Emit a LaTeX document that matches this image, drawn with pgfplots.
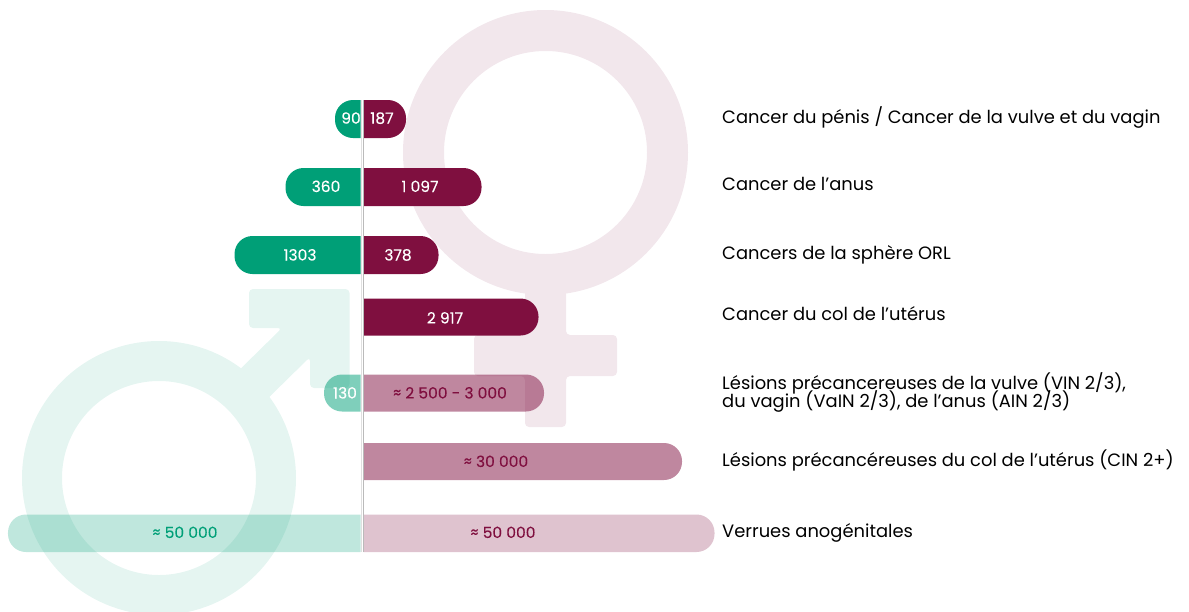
\documentclass[border=0pt]{standalone}
\usepackage{pgfplots}
\pgfplotsset{compat=1.18}
\usepackage{fontspec}
\setmainfont{Poppins}
\newfontfamily\valfont[FakeBold=0.25]{Poppins}
\definecolor{vert}{HTML}{009F77}
\definecolor{bord}{HTML}{7F0F3F}
\definecolor{palev}{HTML}{E5F5F1}
\definecolor{paleb}{HTML}{F2E7EC}
\pgfplotsset{base/.style={hide axis,x=1pt,y=1pt,y dir=reverse,ymin=0,ymax=612}}
% one bar: colour, length from the central axis, top and bottom of the bar, opacity
\newcommand{\barR}[5]{\addplot[forget plot,mark=none,draw=none,fill=#1,fill opacity=#5,rounded corners=18pt]
  coordinates {(-30,#3)(#2,#3)(#2,#4)(-30,#4)} -- cycle;}
\newcommand{\barL}[5]{\addplot[forget plot,mark=none,draw=none,fill=#1,fill opacity=#5,rounded corners=18pt]
  coordinates {(30,#3)(-#2,#3)(-#2,#4)(30,#4)} -- cycle;}
\begin{document}
\begin{tikzpicture}[x=1pt,y=1pt]
\path[use as bounding box] (0,0) rectangle (1189,-612);
% decorative symbols
\begin{axis}[base,at={(0,0)},anchor=north west,xmin=0,xmax=1189,clip=false]
\addplot[forget plot,draw=none] coordinates {(0,0)(1189,612)};
% female
\draw[paleb,line width=41pt] (axis cs:545.5,152.5) circle [radius=122pt];
\fill[paleb,rounded corners=4pt] (axis cs:525,270) -- (axis cs:566,270) -- (axis cs:566,335) -- (axis cs:617,335) -- (axis cs:617,376) -- (axis cs:566,376) -- (axis cs:566,427) -- (axis cs:525,427) -- (axis cs:525,376) -- (axis cs:474,376) -- (axis cs:474,335) -- (axis cs:525,335) -- cycle;
% male
\draw[palev,line width=40pt] (axis cs:159,478) circle [radius=117pt];
\fill[palev,rounded corners=4pt] (axis cs:249,289) -- (axis cs:349.5,289) -- (axis cs:349.5,388) -- (axis cs:310,388) -- (axis cs:310,357) -- (axis cs:254,412) -- (axis cs:225,384) -- (axis cs:282,328) -- (axis cs:249,328) -- cycle;
\end{axis}
% women: right side
\begin{axis}[base,at={(363.5,0)},anchor=north west,xmin=0,xmax=825]
\barR{bord}{42.5}{100}{138}{1}
\barR{bord}{118}{168}{206}{1}
\barR{bord}{75}{236}{274}{1}
\barR{bord}{175}{298.5}{335.5}{1}
\barR{bord}{180.5}{374.5}{411.5}{0.5}
\barR{bord}{318.5}{443}{480}{0.5}
\barR{bord}{351}{514.5}{552}{0.25}
\end{axis}
% men: left side
\begin{axis}[base,at={(360.5,0)},anchor=north east,xmin=-360,xmax=0]
\barL{vert}{25.5}{100}{138}{1}
\barL{vert}{75}{168}{206}{1}
\barL{vert}{126}{236}{274}{1}
\barL{vert}{36.5}{374.5}{411.5}{0.5}
\barL{vert}{352.5}{514.5}{552}{0.25}
\end{axis}
\begin{axis}[base,at={(0,0)},anchor=north west,xmin=0,xmax=1189,clip=false]
\addplot[forget plot,draw=none] coordinates {(0,0)(1189,612)};
\draw[black!27,line width=1pt] (axis cs:363.2,100) -- (axis cs:363.2,552);
\draw[black!12,line width=1pt] (axis cs:361,100) -- (axis cs:361,552);
\tikzset{v/.style={font=\fontsize{15.5}{15.5}\selectfont\valfont,inner sep=0pt,anchor=base},
 l/.style={font=\fontsize{17.9}{18}\selectfont,inner sep=0pt,anchor=base west}}
\node[v,white] at (axis cs:351,123.7) {90};
\node[v,white] at (axis cs:382,123.7) {187};
\node[v,white] at (axis cs:326,192) {360};
\node[v,white] at (axis cs:420,192) {1 097};
\node[v,white] at (axis cs:300,260.5) {1303};
\node[v,white] at (axis cs:398,260.5) {378};
\node[v,white] at (axis cs:445,323.5) {2 917};
\node[v,white] at (axis cs:345,398.5) {130};
\node[v,bord] at (axis cs:450,398.5) {≈ 2 500 - 3 000};
\node[v,bord] at (axis cs:496,467) {≈ 30 000};
\node[v,bord] at (axis cs:503,538) {≈ 50 000};
\node[v,vert] at (axis cs:185,538) {≈ 50 000};
\node[l] at (axis cs:722,123.5) {Cancer du pénis / Cancer de la vulve et du vagin};
\node[l] at (axis cs:722,190.7) {Cancer de l’anus};
\node[l] at (axis cs:722,259.3) {Cancers de la sphère ORL};
\node[l] at (axis cs:722,320.7) {Cancer du col de l’utérus};
\node[l] at (axis cs:722,389.3) {Lésions précancereuses de la vulve (VIN 2/3),};
\node[l] at (axis cs:722,407.3) {du vagin (VaIN 2/3), de l’anus (AIN 2/3)};
\node[l] at (axis cs:722,466) {Lésions précancéreuses du col de l’utérus (CIN 2+)};
\node[l] at (axis cs:722,537.3) {Verrues anogénitales};
\end{axis}
\end{tikzpicture}
\end{document}
